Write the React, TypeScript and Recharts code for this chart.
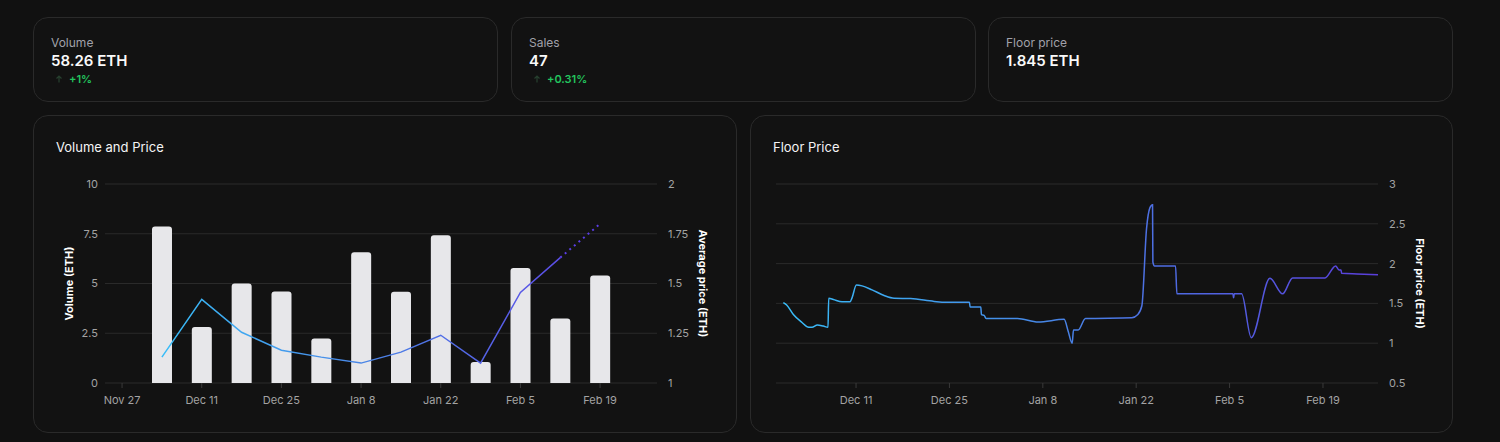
import React from "react";
import {
  ComposedChart,
  LineChart,
  Bar,
  Line,
  XAxis,
  YAxis,
  CartesianGrid,
} from "recharts";

const DAY = 86400000;

// weekly volume (ETH) and average sale price (ETH)
const WEEKS = [
  "2023-12-04", "2023-12-11", "2023-12-18", "2023-12-25", "2024-01-01", "2024-01-08",
  "2024-01-15", "2024-01-22", "2024-01-29", "2024-02-05", "2024-02-12", "2024-02-19",
];
const VOLUME = [7.87, 2.82, 5.0, 4.6, 2.23, 6.57, 4.58, 7.42, 1.06, 5.78, 3.24, 5.4];
const AVG_PRICE = [1.13, 1.42, 1.255, 1.165, 1.13, 1.1, 1.155, 1.24, 1.1, 1.455, 1.63, null];
const AVG_PRICE_EST = [null, null, null, null, null, null, null, null, null, null, 1.63, 1.8];
const VOLUME_TICKS = [
  "2023-11-27", "2023-12-11", "2023-12-25", "2024-01-08", "2024-01-22", "2024-02-05", "2024-02-19",
];

// floor price, sampled as days since FLOOR_START
const FLOOR_START = "2023-11-29";
const FLOOR_DOMAIN_DAYS = [0, 90.25];
const FLOOR_DAYS = [
  1.1, 1.6, 2.6, 3.9, 4.9, 5.4, 6.2, 7.1, 7.8, 7.9, 8.6, 9.9, 11.1, 11.4, 12.05, 12.9,
  14.4, 16.2, 17.7, 20.2, 23.7, 25.5, 29.0, 29.1, 30.7, 30.8, 31.2, 31.5, 36.2, 39.3,
  43.2, 43.8, 44.4, 44.6, 45.3, 46.4, 53.35, 54.25, 54.85, 55.55, 56.05, 56.45, 56.5,
  56.75, 59.9, 60.1, 68.5, 68.6, 68.7, 69.8, 71.25, 74.05, 75.95, 77.45, 82.3, 83.9,
  84.4, 84.7, 84.8, 87.1, 90.25,
];
const FLOOR_PRICE = [
  1.51, 1.48, 1.36, 1.26, 1.2, 1.2, 1.23, 1.215, 1.2, 1.565, 1.55, 1.52, 1.52, 1.57, 1.73, 1.72,
  1.67, 1.6, 1.565, 1.56, 1.525, 1.515, 1.515, 1.455, 1.455, 1.36, 1.35, 1.31, 1.31, 1.265,
  1.3, 1.15, 1.0, 1.165, 1.165, 1.31, 1.32, 1.36, 1.47, 2.44, 2.7, 2.74, 2.02,
  1.97, 1.97, 1.62, 1.62, 1.57, 1.62, 1.62, 1.07, 1.815, 1.62, 1.82, 1.82, 1.97,
  1.92, 1.92, 1.88, 1.87, 1.86,
];
const FLOOR_TICKS = ["2023-12-11", "2023-12-25", "2024-01-08", "2024-01-22", "2024-02-05", "2024-02-19"];

const STATS = [
  { label: "Volume", value: "58.26 ETH", change: "+1%" },
  { label: "Sales", value: "47", change: "+0.31%" },
  { label: "Floor price", value: "1.845 ETH", change: null },
];

const volumeData = WEEKS.map((w, i) => ({
  t: Date.parse(w),
  volume: VOLUME[i],
  price: AVG_PRICE[i],
  estimate: AVG_PRICE_EST[i],
}));
const volumeDomain = [volumeData[0].t - 10 * DAY, volumeData[volumeData.length - 1].t + 10 * DAY];

const floorStart = Date.parse(FLOOR_START);
const floorData = FLOOR_DAYS.map((d, i) => ({ t: floorStart + d * DAY, floor: FLOOR_PRICE[i] }));
const floorDomain = FLOOR_DOMAIN_DAYS.map((d) => floorStart + d * DAY);

const fmtDate = (t: number) =>
  new Date(t).toLocaleDateString("en-US", { month: "short", day: "numeric", timeZone: "UTC" });

const BG = "#111111";
const BORDER = "#2a2a2a";
const GRID = "#2a2a2a";
const TICK = { fill: "#a3a3a3", fontSize: 11 };
const FONT = "Inter, 'Noto Sans', sans-serif";

function Card({ left, top, width, height, children }: any) {
  return (
    <div
      style={{
        position: "absolute",
        left,
        top,
        width,
        height,
        boxSizing: "border-box",
        border: `1px solid ${BORDER}`,
        borderRadius: 15,
        background: "#121212",
      }}
    >
      {children}
    </div>
  );
}

function UpArrow() {
  return (
    <svg width="8" height="8" viewBox="0 0 8 8" style={{ position: "absolute", left: 4, top: 3 }}>
      <path d="M4 7.5V1M1.5 3.5L4 1l2.5 2.5" stroke="#27402f" strokeWidth="1.2" fill="none" />
    </svg>
  );
}

function StatCard({ left, stat }: any) {
  return (
    <Card left={left} top={17} width={465} height={85}>
      <div style={{ position: "absolute", left: 17, top: 17, fontSize: 12, lineHeight: "16px", color: "#a1a1aa" }}>
        {stat.label}
      </div>
      <div
        style={{
          position: "absolute",
          left: 17,
          top: 33,
          fontSize: 15,
          lineHeight: "20px",
          fontWeight: 600,
          color: "#fafafa",
        }}
      >
        {stat.value}
      </div>
      {stat.change && (
        <div style={{ position: "absolute", left: 17, top: 54, height: 14, width: 120 }}>
          <UpArrow />
          <span
            style={{
              position: "absolute",
              left: 18,
              top: 0,
              fontSize: 11,
              lineHeight: "14px",
              fontWeight: 600,
              color: "#22c55e",
            }}
          >
            {stat.change}
          </span>
        </div>
      )}
    </Card>
  );
}

function Title({ children }: any) {
  return (
    <div
      style={{
        position: "absolute",
        left: 22,
        top: 22,
        fontSize: 13,
        lineHeight: "18px",
        fontWeight: 400,
        color: "#f4f4f5",
      }}
    >
      {children}
    </div>
  );
}

function VolumeChart() {
  return (
    <ComposedChart
      width={704}
      height={318}
      data={volumeData}
      margin={{ top: 69, right: 0, bottom: 20, left: 0 }}
    >
      <defs>
        <linearGradient id="priceGrad" x1="0" y1="0" x2="1" y2="0">
          <stop offset="0%" stopColor="#38bdf8" />
          <stop offset="50%" stopColor="#4a86e6" />
          <stop offset="100%" stopColor="#5b4de6" />
        </linearGradient>
      </defs>
      <CartesianGrid vertical={false} stroke={GRID} yAxisId="vol" />
      <XAxis
        dataKey="t"
        type="number"
        domain={volumeDomain}
        ticks={VOLUME_TICKS.map((d) => Date.parse(d))}
        tickFormatter={fmtDate}
        axisLine={false}
        tickLine={{ stroke: "#3a3a3a" }}
        tickSize={5}
        tickMargin={8}
        tick={TICK}
      />
      <YAxis
        yAxisId="vol"
        orientation="left"
        width={72}
        domain={[0, 10]}
        ticks={[0, 2.5, 5, 7.5, 10]}
        axisLine={false}
        tickLine={false}
        tickSize={0}
        tickMargin={7}
        tick={TICK}
        label={{
          value: "Volume (ETH)",
          angle: -90,
          position: "center",
          fill: "#ffffff",
          fontSize: 11,
          fontWeight: 700,
        }}
      />
      <YAxis
        yAxisId="price"
        orientation="right"
        width={80}
        domain={[1, 2]}
        ticks={[1, 1.25, 1.5, 1.75, 2]}
        axisLine={false}
        tickLine={false}
        tickSize={0}
        tickMargin={11}
        tick={{ ...TICK, textAnchor: "start" }}
        label={{
          value: "Average price (ETH)",
          angle: 90,
          position: "center",
          dx: 6,
          fill: "#ffffff",
          fontSize: 11,
          fontWeight: 700,
        }}
      />
      <Bar yAxisId="vol" dataKey="volume" barSize={20} fill="#e7e7ea" radius={[3, 3, 0, 0]} isAnimationActive={false} />
      <Line
        yAxisId="price"
        dataKey="price"
        type="linear"
        stroke="url(#priceGrad)"
        strokeWidth={1.5}
        dot={false}
        activeDot={false}
        isAnimationActive={false}
      />
      <Line
        yAxisId="price"
        dataKey="estimate"
        type="linear"
        stroke="#5b3fe6"
        strokeWidth={2}
        strokeDasharray="2 4"
        dot={false}
        activeDot={false}
        isAnimationActive={false}
      />
    </ComposedChart>
  );
}

function FloorChart() {
  return (
    <LineChart
      width={703}
      height={318}
      data={floorData}
      margin={{ top: 69, right: 0, bottom: 20, left: 26 }}
    >
      <defs>
        <linearGradient id="floorGrad" x1="0" y1="0" x2="1" y2="0">
          <stop offset="0%" stopColor="#38bdf8" />
          <stop offset="45%" stopColor="#4785e6" />
          <stop offset="100%" stopColor="#5a3edb" />
        </linearGradient>
      </defs>
      <CartesianGrid vertical={false} stroke={GRID} />
      <XAxis
        dataKey="t"
        type="number"
        domain={floorDomain}
        ticks={FLOOR_TICKS.map((d) => Date.parse(d))}
        tickFormatter={fmtDate}
        axisLine={false}
        tickLine={{ stroke: "#3a3a3a" }}
        tickSize={5}
        tickMargin={8}
        tick={TICK}
        allowDataOverflow
      />
      <YAxis
        orientation="right"
        width={75}
        domain={[0.5, 3]}
        ticks={[0.5, 1, 1.5, 2, 2.5, 3]}
        axisLine={false}
        tickLine={false}
        tickSize={0}
        tickMargin={11}
        tick={{ ...TICK, textAnchor: "start" }}
        label={{
          value: "Floor price (ETH)",
          angle: 90,
          position: "center",
          dx: 4,
          fill: "#ffffff",
          fontSize: 11,
          fontWeight: 700,
        }}
      />
      <Line
        dataKey="floor"
        type="monotone"
        stroke="url(#floorGrad)"
        strokeWidth={1.5}
        dot={false}
        activeDot={false}
        isAnimationActive={false}
      />
    </LineChart>
  );
}

export default function App() {
  return (
    <div
      style={{
        position: "absolute",
        left: 0,
        top: 0,
        width: 1500,
        height: 442,
        background: BG,
        fontFamily: FONT,
        overflow: "hidden",
      }}
    >
      <StatCard left={33} stat={STATS[0]} />
      <StatCard left={511} stat={STATS[1]} />
      <StatCard left={988} stat={STATS[2]} />

      <Card left={33} top={115} width={704} height={318}>
        <Title>Volume and Price</Title>
      </Card>
      <Card left={750} top={115} width={703} height={318}>
        <Title>Floor Price</Title>
      </Card>

      <div style={{ position: "absolute", left: 33, top: 115 }}>
        <VolumeChart />
      </div>
      <div style={{ position: "absolute", left: 750, top: 115 }}>
        <FloorChart />
      </div>
    </div>
  );
}
